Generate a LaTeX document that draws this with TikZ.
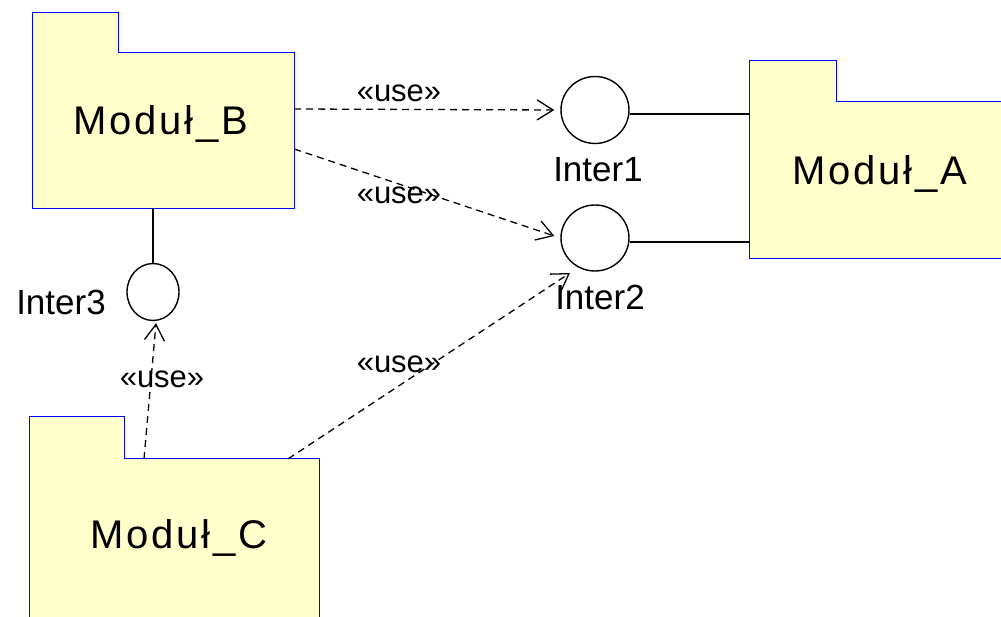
\documentclass[tikz,border=0pt]{standalone}
\usepackage{fontspec}
\setmainfont{Liberation Sans}
\usetikzlibrary{arrows.meta,shapes.geometric,calc}
\definecolor{pkgfill}{RGB}{255,255,204}
\definecolor{pkgblue}{RGB}{0,0,255}
\begin{document}
\begin{tikzpicture}[x=1pt,y=-1pt,
  pkgbody/.style={rectangle, draw=none, inner sep=0pt},
  pkgshape/.style={draw=pkgblue, fill=pkgfill, line width=1pt, line join=miter},
  iface/.style={ellipse, draw=black, line width=1.4pt, fill=white, inner sep=0pt},
  solidlink/.style={draw=black, line width=1.4pt},
  uselink/.style={draw=black, line width=1.3pt, dash pattern=on 7pt off 5pt,
    -{Straight Barb[length=16pt,width=20pt]}},
  modtext/.style={inner sep=0pt, anchor=base, font=\fontsize{40}{48}\selectfont\addfontfeatures{LetterSpace=7}},
  ilabel/.style={inner sep=0pt, anchor=base, font=\fontsize{35}{42}\selectfont},
  uselabel/.style={inner sep=0pt, anchor=base, font=\fontsize{31}{37}\selectfont}
]
\useasboundingbox (0,0) rectangle (1001,617);

% packages (body nodes give the anchors, the outline is drawn as one polygon)
\node[pkgbody, minimum width=261pt, minimum height=155pt] (B) at (163.5,130.5) {};
\path[pkgshape] (B.south west) -- ($(B.north west)+(0,-40)$) -- ($(B.north west)+(86,-40)$)
  -- ($(B.north west)+(86,0)$) -- (B.north east) -- (B.south east) -- cycle;

\node[pkgbody, minimum width=255pt, minimum height=156pt] (A) at (877.5,180) {};
\path[pkgshape] (A.south west) -- ($(A.north west)+(0,-41)$) -- ($(A.north west)+(87,-41)$)
  -- ($(A.north west)+(87,0)$) -- (A.north east) -- (A.south east) -- cycle;

\node[pkgbody, minimum width=289pt, minimum height=166pt] (C) at (174.5,542) {};
\path[pkgshape] (C.south west) -- ($(C.north west)+(0,-42)$) -- ($(C.north west)+(95,-42)$)
  -- ($(C.north west)+(95,0)$) -- (C.north east) -- (C.south east) -- cycle;

\node[modtext] (Bt) at (161,135) {Moduł\_B};
\node[modtext] (At) at (880,185) {Moduł\_A};
\node[modtext] (Ct) at (179,548) {Moduł\_C};

% interfaces
\node[iface, minimum width=68pt, minimum height=67pt] (i1) at (595,110) {};
\node[iface, minimum width=68pt, minimum height=66pt] (i2) at (595,238) {};
\node[iface, minimum width=52pt, minimum height=57pt] (i3) at (153,292) {};

\node[ilabel] (l1) at (598,182) {Inter1};
\node[ilabel] (l2) at (600,310) {Inter2};
\node[ilabel] (l3) at (61,315) {Inter3};

% realisation lines
\draw[solidlink] ([yshift=-4pt]i1.east) -- ([yshift=-4pt]i1.east -| A.west);
\draw[solidlink] ([yshift=-4pt]i2.east) -- ([yshift=-4pt]i2.east -| A.west);
\draw[solidlink] (B.south -| i3.north) -- (i3.north);

% use dependencies
\draw[uselink] ([yshift=21.5pt]B.east) -- ([xshift=-6pt]i1.west);
\draw[uselink] ([yshift=-18.5pt]B.east) -- ([xshift=-6pt,yshift=2pt]i2.west);
\draw[uselink] ([xshift=-31pt]C.north east) -- ([xshift=-25pt,yshift=-35pt]i2.center);
\draw[uselink] ([xshift=-30.5pt]C.north) -- ([xshift=3pt,yshift=-2pt]i3.south);

\node[uselabel] (u1) at (399,101.7) {«use»};
\node[uselabel] (u2) at (399,203.3) {«use»};
\node[uselabel] (u3) at (399,373) {«use»};
\node[uselabel] (u4) at (162,388) {«use»};
\end{tikzpicture}
\end{document}
